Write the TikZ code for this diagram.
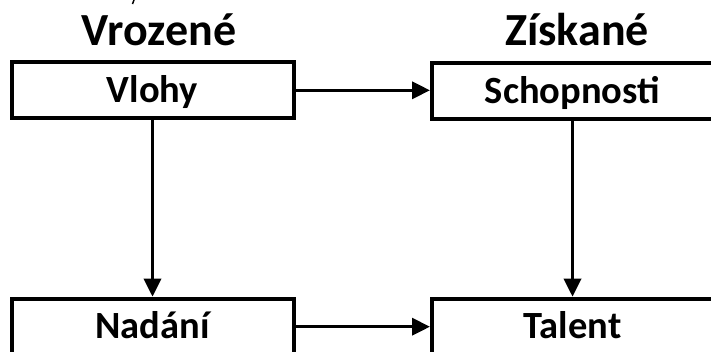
\documentclass[tikz,border=0pt]{standalone}
\usepackage{fontspec}
\setmainfont{Carlito}
\usetikzlibrary{arrows.meta}
\begin{document}
\begin{tikzpicture}[x=1pt,y=-1pt,
  box/.style={draw, line width=4pt, minimum width=282pt, minimum height=56pt, inner sep=0pt,
    font=\fontsize{38.5}{40}\selectfont\bfseries, text height=24.5pt, text depth=0pt},
  rbox/.style={box, minimum width=281pt},
  conn/.style={line width=3.5pt, -{Triangle[length=18pt,width=17pt]}},
  title/.style={font=\fontsize{46}{50}\selectfont\bfseries, anchor=base, inner sep=0pt}]
\useasboundingbox (0,0) rectangle (711,351);
\clip (0,0) rectangle (711,351);
\node[title] (tv) at (159,45) {Vrozené};
\node[title] (tz) at (577,45) {Získané};
\node[box] (v) at (152.5,90.3) {Vlohy};
\node[rbox] (s) at (572.5,91.2) {Schopnosti};
\node[box] (n) at (152.5,326.7) {Nadání};
\node[rbox] (t) at (572.5,326.7) {Talent};
\draw[conn] (v.east) -- (v.east -| s.west);
\draw[conn] (n.east) -- (t.west);
\draw[conn] (v.south) -- (n.north);
\draw[conn] (s.south) -- (t.north);
\coordinate (m1) at (134,0);
\coordinate (m2) at (132.5,4);
\draw[line width=1.5pt] (m1) -- (m2);
\end{tikzpicture}
\end{document}
